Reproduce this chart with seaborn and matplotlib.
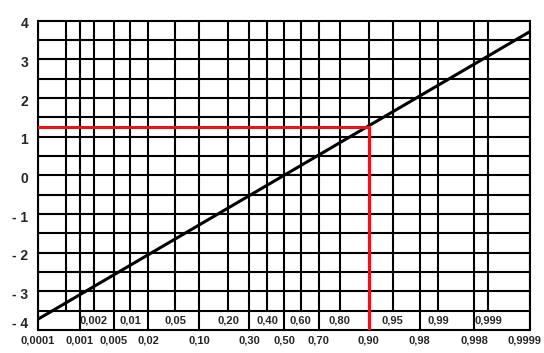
import numpy as np
import matplotlib
matplotlib.use("Agg")
import matplotlib.pyplot as plt
from matplotlib.transforms import ScaledTranslation
import seaborn as sns
from math import erf, sqrt
from statistics import NormalDist

# Probability axis (normal probability paper)
bottom_probs = [0.0001, 0.001, 0.005, 0.02, 0.10, 0.30, 0.50, 0.70, 0.90, 0.98, 0.998, 0.9999]
bottom_labels = ["0,0001", "0,001", "0,005", "0,02", "0,10", "0,30", "0,50", "0,70",
                 "0,90", "0,98", "0,998", "0,9999"]
band_probs = [0.002, 0.01, 0.05, 0.20, 0.40, 0.60, 0.80, 0.95, 0.99, 0.999]
band_labels = ["0,002", "0,01", "0,05", "0,20", "0,40", "0,60", "0,80", "0,95", "0,99", "0,999"]
extra_probs = [0.0005]

# Standard normal variable axis
z_ticks = [4, 3, 2, 1, 0, -1, -2, -3, -4]
z_labels = ["4", "3", "2", "1", "0", "- 1", "- 2", "- 3", "- 4"]
z_grid = [3.5, 2.5, 1.5, 0.5, -0.5, -1.5, -2.5, -3.5]

# Straight line of the distribution and the red reading for p = 0.90
line_p = [0.0001, 0.9999]
line_z = [-3.72, 3.72]
read_p = [0.0001, 0.90, 0.90]
read_z = [1.24, 1.24, -4.0]

_nd = NormalDist()
_ppf = np.vectorize(_nd.inv_cdf, otypes=[float])
_cdf = np.vectorize(lambda v: 0.5 * (1 + erf(v / sqrt(2))), otypes=[float])


def probit(p):
    p = np.clip(np.asarray(p, dtype=float), 1e-12, 1 - 1e-12)
    return _ppf(p)


def inv_probit(z):
    return _cdf(np.asarray(z, dtype=float))


sns.set_style("white")
plt.rcParams["font.family"] = ["Liberation Sans", "DejaVu Sans"]
plt.rcParams["font.weight"] = "bold"

fig = plt.figure(figsize=(5.44, 3.53), dpi=100)
ax = fig.add_axes([38 / 544, 1 - 330 / 353, (530 - 38) / 544, (330 - 20.7) / 353])
ax.set_xscale("function", functions=(probit, inv_probit))
ax.set_xlim(0.0001, 0.9999)
ax.set_ylim(-4, 4)

grid_kw = dict(color="black", linewidth=1.5, zorder=1)
ax.hlines(z_ticks[1:-1] + z_grid, 0.0001, 0.9999, **grid_kw)
ax.vlines(bottom_probs, -4, 4, **grid_kw)
ax.vlines(band_probs + extra_probs, -3.5, 4, **grid_kw)

sns.lineplot(x=line_p, y=line_z, ax=ax, color="black", linewidth=2.2,
             estimator=None, sort=False, zorder=3)
sns.lineplot(x=read_p, y=read_z, ax=ax, color="#e8141c", linewidth=2.2,
             estimator=None, sort=False, zorder=4)

for p, lab in zip(band_probs, band_labels):
    ax.text(p, -3.76, lab, ha="center", va="center", fontsize=8, fontweight="bold")

ax.set_xticks(bottom_probs)
ax.set_xticklabels(bottom_labels, fontsize=8, fontweight="bold")
ax.xaxis.set_minor_locator(matplotlib.ticker.NullLocator())
ax.set_yticks(z_ticks)
ax.set_yticklabels(z_labels, fontsize=10, fontweight="bold")
ax.tick_params(axis="x", length=0, pad=4)
ax.tick_params(axis="y", length=0, pad=7)
ax.set_xlabel("")
ax.set_ylabel("")

# nudge labels the way the hand-made paper has them
xlabs = ax.get_xticklabels()
xlabs[-1].set_transform(xlabs[-1].get_transform() + ScaledTranslation(-6 / 100, 0, fig.dpi_scale_trans))
ylabs = ax.get_yticklabels()
for lab in ylabs[:-1]:
    lab.set_transform(lab.get_transform() + ScaledTranslation(0, -2 / 100, fig.dpi_scale_trans))
ylabs[-1].set_transform(ylabs[-1].get_transform() + ScaledTranslation(0, 7 / 100, fig.dpi_scale_trans))

for s in ax.spines.values():
    s.set_color("black")
    s.set_linewidth(1.5)
    s.set_visible(True)

fig.savefig("out.png", dpi=100)
